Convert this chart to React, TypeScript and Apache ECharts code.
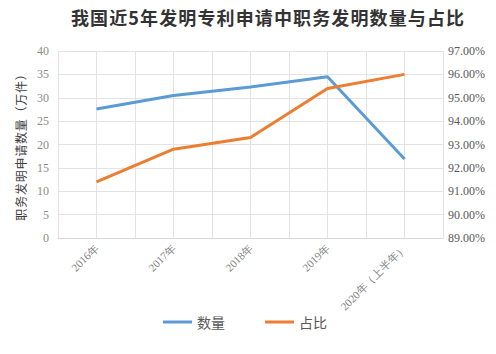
import React, { useEffect, useRef } from "react";
import * as echarts from "echarts";

const categories = ["2016年", "2017年", "2018年", "2019年", "2020年（上半年）"];
const countValues = [27.6, 30.5, 32.3, 34.5, 16.9];
const shareValues = [91.4, 92.8, 93.3, 95.4, 96.0];
const titleText = "我国近5年发明专利申请中职务发明数量与占比";
const yAxisName = "职务发明申请数量（万件）";

const spaced = (s: string, sp: string) => Array.from(s).join(sp);

export default function App() {
  const ref = useRef<HTMLDivElement>(null);
  useEffect(() => {
    if (!ref.current) return;
    const chart = echarts.init(ref.current, null, { renderer: "svg" });
    const serif = "'Liberation Serif', 'DejaVu Serif', serif";
    chart.setOption({
      animation: false,
      backgroundColor: "#ffffff",
      title: {
        text: spaced(titleText, "\u200a"),
        left: 66,
        top: 3,
        textStyle: {
          fontFamily: "'Noto Sans CJK SC', sans-serif",
          fontWeight: "bold",
          fontSize: 18,
          color: "#333333",
        },
      },
      legend: {
        left: 158,
        top: 310,
        icon: "rect",
        itemWidth: 29,
        itemHeight: 3,
        itemGap: 40,
        textStyle: { fontSize: 14, color: "#595959", fontFamily: "'Noto Sans CJK SC', sans-serif" },
        data: ["数量", "占比"],
      },
      grid: { left: 58, right: 53, top: 51, bottom: 116, containLabel: false },
      xAxis: [
        {
          type: "category",
          data: categories,
          boundaryGap: true,
          axisLine: { show: true, lineStyle: { color: "#d9d9d9" } },
          axisTick: { show: false },
          splitLine: { show: false },
          axisLabel: {
            rotate: 45,
            interval: 0,
            margin: 8,
            fontSize: 11,
            color: "#7f7f7f",
            fontFamily: serif,
          },
        },
        {
          type: "value",
          min: 0,
          max: 10,
          interval: 1,
          position: "bottom",
          axisLine: { show: false },
          axisTick: { show: false },
          axisLabel: { show: false },
          splitLine: { show: true, lineStyle: { color: "#e3e3e3" } },
        },
      ],
      yAxis: [
        {
          type: "value",
          min: 0,
          max: 40,
          interval: 5,
          name: spaced(yAxisName, "\u200a"),
          nameLocation: "middle",
          nameRotate: 90,
          nameGap: 25,
          nameTextStyle: { fontSize: 12, color: "#404040", fontFamily: "'Noto Sans CJK SC', sans-serif" },
          axisLine: { show: false },
          axisTick: { show: false },
          axisLabel: { fontSize: 12, color: "#8c8c8c", fontFamily: serif, margin: 9 },
          splitLine: { show: true, lineStyle: { color: "#e3e3e3" } },
        },
        {
          type: "value",
          min: 89,
          max: 97,
          interval: 1,
          position: "right",
          axisLine: { show: false },
          axisTick: { show: false },
          splitLine: { show: false },
          axisLabel: {
            fontSize: 12,
            color: "#595959",
            fontFamily: serif,
            margin: 5,
            formatter: (v: number) => v.toFixed(2) + "%",
          },
        },
      ],
      series: [
        {
          name: "数量",
          type: "line",
          xAxisIndex: 0,
          yAxisIndex: 0,
          data: countValues,
          showSymbol: false,
          symbol: "none",
          lineStyle: { width: 3, color: "#5b9bd5" },
          itemStyle: { color: "#5b9bd5" },
        },
        {
          name: "占比",
          type: "line",
          xAxisIndex: 0,
          yAxisIndex: 1,
          data: shareValues,
          showSymbol: false,
          symbol: "none",
          lineStyle: { width: 3, color: "#ed7d31" },
          itemStyle: { color: "#ed7d31" },
        },
      ],
    });
    return () => chart.dispose();
  }, []);
  return (
    <div
      ref={ref}
      style={{ position: "fixed", left: 0, top: 0, width: 496, height: 354 }}
    />
  );
}
